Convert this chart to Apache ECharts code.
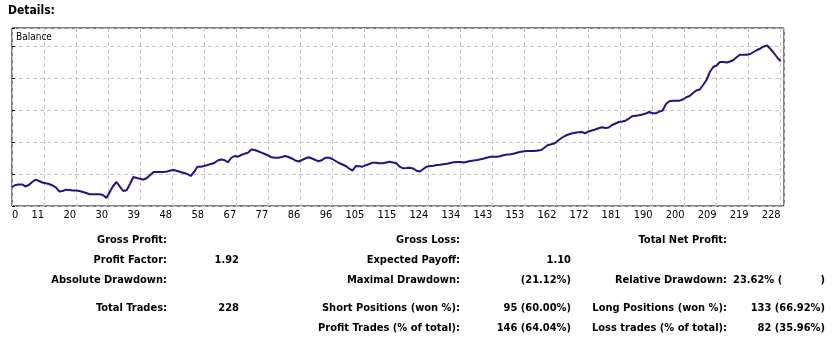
<!DOCTYPE html>
<html>
<head>
<meta charset="utf-8">
<script src="https://cdn.jsdelivr.net/npm/echarts@6/dist/echarts.min.js"></script>
<style>
  html, body { margin: 0; padding: 0; background: #fff; }
  #chart { width: 839px; height: 338px; }
</style>
</head>
<body>
<div id="chart"></div>
<script>
// Trade-number labels shown under the balance graph
const tradeTicks = ['0', '11', '20', '30', '39', '48', '58', '67', '77', '86', '96', '105', '115',
  '124', '134', '143', '153', '162', '172', '181', '190', '200', '209', '219', '228'];

// Account balance after each trade (trade 0 .. 228)
const balance = [
  10075, 10125, 10138, 10138, 10088, 10125, 10200, 10258, 10225, 10188,
  10168, 10150, 10113, 10063, 9963, 9975, 10008, 10000, 9988, 9985,
  9975, 9950, 9925, 9893, 9893, 9893, 9893, 9875, 9800, 9950,
  10100, 10200, 10083, 9975, 9993, 10150, 10325, 10300, 10283, 10258,
  10300, 10375, 10450, 10450, 10450, 10450, 10463, 10488, 10500, 10475,
  10450, 10425, 10400, 10350, 10450, 10583, 10583, 10600, 10625, 10650,
  10675, 10738, 10763, 10750, 10693, 10800, 10850, 10833, 10875, 10908,
  10933, 11013, 11000, 10968, 10933, 10900, 10863, 10818, 10808, 10808,
  10825, 10850, 10825, 10788, 10738, 10713, 10750, 10788, 10818, 10788,
  10750, 10720, 10750, 10808, 10808, 10775, 10725, 10675, 10638, 10600,
  10538, 10483, 10600, 10593, 10583, 10620, 10650, 10683, 10683, 10668,
  10668, 10688, 10708, 10688, 10668, 10583, 10543, 10550, 10558, 10538,
  10483, 10463, 10525, 10583, 10600, 10608, 10625, 10630, 10643, 10655,
  10675, 10693, 10700, 10700, 10688, 10708, 10725, 10738, 10750, 10768,
  10788, 10813, 10833, 10833, 10833, 10850, 10875, 10888, 10895, 10913,
  10938, 10958, 10968, 10975, 10975, 10975, 10988, 11000, 11063, 11125,
  11145, 11168, 11238, 11300, 11350, 11388, 11413, 11433, 11443, 11450,
  11418, 11463, 11488, 11513, 11543, 11568, 11550, 11563, 11625, 11663,
  11700, 11713, 11733, 11788, 11845, 11858, 11870, 11888, 11913, 11950,
  11918, 11918, 11958, 11988, 12150, 12220, 12233, 12233, 12233, 12263,
  12318, 12350, 12425, 12488, 12513, 12625, 12750, 12950, 13075, 13113,
  13200, 13200, 13188, 13213, 13250, 13325, 13383, 13383, 13383, 13400,
  13450, 13500, 13538, 13588, 13613, 13525, 13425, 13313, 13213
];

// Summary table: [caption, value] per row, three column groups
const summaryLeft = [
  ['Gross Profit:', ''],
  ['Profit Factor:', '1.92'],
  ['Absolute Drawdown:', ''],
  ['Total Trades:', '228'],
  ['', '']
];
const summaryMiddle = [
  ['Gross Loss:', ''],
  ['Expected Payoff:', '1.10'],
  ['Maximal Drawdown:', '(21.12%)'],
  ['Short Positions (won %):', '95 (60.00%)'],
  ['Profit Trades (% of total):', '146 (64.04%)']
];
const summaryRight = [
  ['Total Net Profit:', ''],
  ['', ''],
  ['Relative Drawdown:', '23.62% ('],
  ['Long Positions (won %):', '133 (66.92%)'],
  ['Loss trades (% of total):', '82 (35.96%)']
];

const FONT = 'Tahoma, "DejaVu Sans Condensed", "DejaVu Sans", sans-serif';
const TICK_STEP = 9.5;
const GRID_DASH = { color: '#c6c6c6', type: [4, 3], width: 1 };

const chart = echarts.init(document.getElementById('chart'), null, { renderer: 'canvas' });

// Table layout
const rowY = [240, 260, 280, 308, 328];
const columns = [
  { rows: summaryLeft, labelX: 167, valueX: 239, valueAlign: 'right' },
  { rows: summaryMiddle, labelX: 460, valueX: 571, valueAlign: 'right' },
  { rows: summaryRight, labelX: 727, valueX: 825, valueAlign: 'right' }
];

const graphics = [
  { type: 'text', x: 8, y: 11, style: { text: 'Details:', font: 'bold 12px ' + FONT, fill: '#000', textVerticalAlign: 'middle' } },
  { type: 'text', x: 16, y: 37, z: 10, style: { text: 'Balance', font: '10px ' + FONT, fill: '#000', textVerticalAlign: 'middle' } }
];

columns.forEach(col => {
  col.rows.forEach((row, r) => {
    if (row[0]) {
      graphics.push({ type: 'text', x: col.labelX, y: rowY[r],
        style: { text: row[0], font: 'bold 11px ' + FONT, fill: '#000', textAlign: 'right', textVerticalAlign: 'middle' } });
    }
    if (row[1]) {
      const openBracket = row[1].endsWith('(');
      graphics.push({ type: 'text', x: openBracket ? 733 : col.valueX, y: rowY[r],
        style: { text: row[1], font: 'bold 11px ' + FONT, fill: '#000', textAlign: openBracket ? 'left' : 'right', textVerticalAlign: 'middle' } });
      if (openBracket) {
        graphics.push({ type: 'text', x: col.valueX, y: rowY[r],
          style: { text: ')', font: 'bold 11px ' + FONT, fill: '#000', textAlign: 'right', textVerticalAlign: 'middle' } });
      }
    }
  });
});

chart.setOption({
  animation: false,
  backgroundColor: '#fff',
  grid: {
    left: 12, top: 28, width: 772, height: 178,
    show: true, borderColor: '#000', borderWidth: 1, backgroundColor: '#fff'
  },
  xAxis: {
    type: 'value',
    min: 0, max: 229, interval: TICK_STEP,
    axisLine: { show: false },
    axisTick: { show: false },
    splitLine: { show: true, lineStyle: GRID_DASH },
    axisLabel: {
      color: '#000', fontSize: 11, fontFamily: FONT, margin: 4,
      align: 'right', alignMinLabel: 'left', showMaxLabel: true,
      formatter: v => {
        const k = v / TICK_STEP;
        return Math.abs(k - Math.round(k)) < 1e-6 ? (tradeTicks[Math.round(k)] ?? '') : '';
      }
    }
  },
  yAxis: {
    type: 'value', position: 'right',
    min: 9600, max: 14050, interval: 800,
    axisLine: { show: false },
    axisTick: { show: true, length: 3, lineStyle: { color: '#000' } },
    axisLabel: { show: false },
    splitLine: { show: true, lineStyle: GRID_DASH }
  },
  series: [{
    name: 'Balance',
    type: 'line',
    data: balance.map((v, i) => [i, v]),
    showSymbol: false,
    silent: true,
    lineStyle: { color: '#24157e', width: 2 }
  }],
  graphic: graphics
});
</script>
</body>
</html>
